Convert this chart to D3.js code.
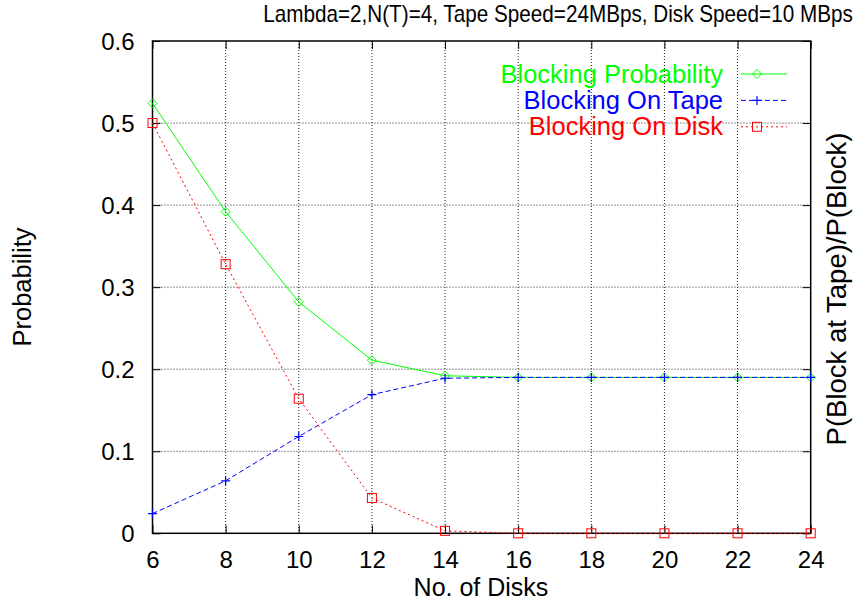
<!DOCTYPE html>
<html><head><meta charset="utf-8">
<script src="https://cdn.jsdelivr.net/npm/d3@7"></script>
<style>body{margin:0;background:#fff}svg{display:block}text{font-family:"Liberation Sans",Arial,sans-serif}</style>
</head><body><svg id="c" width="855" height="602"></svg>
<script>
const disks = [6, 8, 10, 12, 14, 16, 18, 20, 22, 24];
const blockingProbability = [0.524, 0.392, 0.282, 0.211, 0.192, 0.190, 0.190, 0.190, 0.190, 0.190];
const blockingOnTape = [0.024, 0.064, 0.118, 0.169, 0.189, 0.190, 0.190, 0.190, 0.190, 0.190];
const blockingOnDisk = [0.500, 0.328, 0.164, 0.043, 0.003, 0.000, 0.000, 0.000, 0.000, 0.000];
const xTicks = [6, 8, 10, 12, 14, 16, 18, 20, 22, 24];
const yTicks = [0, 0.1, 0.2, 0.3, 0.4, 0.5, 0.6];
const seriesNames = ["Blocking Probability", "Blocking On Tape", "Blocking On Disk"];
const titleText = "Lambda=2,N(T)=4, Tape Speed=24MBps, Disk Speed=10 MBps";

const svg = d3.select("#c");
const L = 152.5, R = 810.7, T = 41, B = 533.3;
const x = d3.scaleLinear().domain([6, 24]).range([L, R]);
const y = d3.scaleLinear().domain([0, 0.6]).range([B, T]);

// grid
const g = svg.append("g");
g.selectAll(".gx").data(xTicks.slice(1, -1)).join("line")
  .attr("x1", d => x(d)).attr("x2", d => x(d)).attr("y1", T).attr("y2", B)
  .attr("stroke", "#222").attr("stroke-width", 1).attr("stroke-dasharray", "1,2");
g.selectAll(".gy").data(yTicks.slice(1, -1)).join("line")
  .attr("y1", d => y(d)).attr("y2", d => y(d)).attr("x1", L).attr("x2", R)
  .attr("stroke", "#222").attr("stroke-width", 1).attr("stroke-dasharray", "1,2");

// axes with inward ticks
const tl = 8;
const axB = svg.append("g").attr("transform", `translate(0,${B})`)
  .call(d3.axisBottom(x).tickValues(xTicks).tickSize(-tl).tickFormat(d3.format("d")));
const axT = svg.append("g").attr("transform", `translate(0,${T})`)
  .call(d3.axisTop(x).tickValues(xTicks).tickSize(-tl).tickFormat(""));
const axL = svg.append("g").attr("transform", `translate(${L},0)`)
  .call(d3.axisLeft(y).tickValues(yTicks).tickSize(-tl).tickPadding(tl + 10).tickFormat(d => d === 0 ? "0" : d3.format(".1f")(d)));
const axR = svg.append("g").attr("transform", `translate(${R},0)`)
  .call(d3.axisRight(y).tickValues(yTicks).tickSize(-tl).tickFormat(""));
[axB, axT, axL, axR].forEach(a => {
  a.select(".domain").remove();
  a.selectAll(".tick line").attr("stroke", "#000").attr("stroke-width", 1);
  a.selectAll("text").attr("font-size", 24).attr("fill", "#000").attr("font-family", '"Liberation Sans",Arial,sans-serif');
});
axL.selectAll("text").attr("dy", "0.36em");
axB.selectAll("text").attr("y", 568 - B).attr("dy", 0);

// frame
svg.append("rect").attr("x", L).attr("y", T).attr("width", R - L).attr("height", B - T)
  .attr("fill", "none").attr("stroke", "#000").attr("stroke-width", 1.5);

const series = [
  {name: seriesNames[0], vals: blockingProbability, color: "#00ff00", dash: null, marker: "diamond"},
  {name: seriesNames[1], vals: blockingOnTape, color: "#0000ff", dash: "5,3", marker: "plus"},
  {name: seriesNames[2], vals: blockingOnDisk, color: "#ff0000", dash: "2,3", marker: "square"}
];

function drawMarker(sel, type, color) {
  if (type === "diamond") {
    sel.append("path").attr("d", "M0,-4.5L4.5,0L0,4.5L-4.5,0Z").attr("fill", "none").attr("stroke", color).attr("stroke-width", 1);
  } else if (type === "plus") {
    sel.append("path").attr("d", "M-4.5,0H4.5M0,-4.5V4.5").attr("fill", "none").attr("stroke", color).attr("stroke-width", 1.2);
  } else {
    sel.append("rect").attr("x", -4.5).attr("y", -4.5).attr("width", 9).attr("height", 9).attr("fill", "none").attr("stroke", color).attr("stroke-width", 1);
  }
}

const line = d3.line().x(d => x(d[0])).y(d => y(d[1]));
series.forEach((s, i) => {
  const pts = disks.map((d, j) => [d, s.vals[j]]);
  svg.append("path").attr("d", line(pts)).attr("fill", "none").attr("stroke", s.color)
    .attr("stroke-width", 1).attr("stroke-dasharray", s.dash);
  pts.forEach(p => drawMarker(svg.append("g").attr("transform", `translate(${x(p[0])},${y(p[1])})`), s.marker, s.color));
  // legend
  const ly = 74 + i * 26.4;
  svg.append("text").attr("x", 723).attr("y", ly + 8.5).attr("text-anchor", "end")
    .attr("font-size", 25.5).attr("fill", s.color).text(s.name);
  svg.append("line").attr("x1", 741).attr("x2", 787).attr("y1", ly).attr("y2", ly)
    .attr("stroke", s.color).attr("stroke-width", 1).attr("stroke-dasharray", s.dash);
  drawMarker(svg.append("g").attr("transform", `translate(${757},${ly})`), s.marker, s.color);
});

// titles
svg.append("text").attr("transform", "translate(558,22) scale(1,1.15)").attr("text-anchor", "middle").attr("font-size", 20.7).text(titleText);
svg.append("text").attr("x", 481).attr("y", 596).attr("text-anchor", "middle").attr("font-size", 25).text("No. of Disks");
svg.append("text").attr("transform", "translate(31,287) rotate(-90)").attr("text-anchor", "middle").attr("font-size", 25.5).text("Probability");
svg.append("text").attr("transform", "translate(846,289) rotate(-90)").attr("text-anchor", "middle").attr("font-size", 27.5).text("P(Block at Tape)/P(Block)");
</script></body></html>
